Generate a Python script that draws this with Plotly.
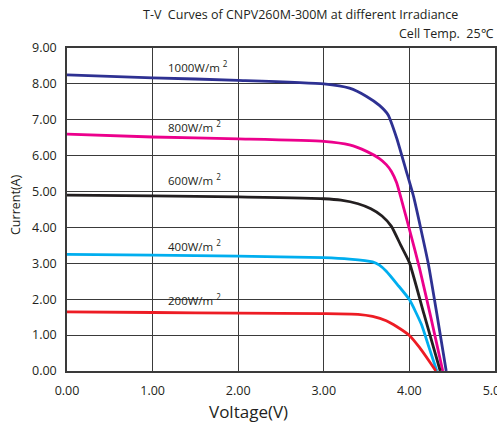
import plotly.graph_objects as go

# Data
V_1000 = [0, 1, 2, 3, 3.3, 3.5, 3.65, 3.75, 3.85, 3.96, 4.05, 4.13, 4.22, 4.32, 4.43]
I_1000 = [8.25, 8.17, 8.1, 8.0, 7.88, 7.65, 7.4, 7.14, 6.5, 5.6, 4.85, 4.0, 3.0, 1.6, 0]

V_800 = [0, 1, 2, 3, 3.3, 3.5, 3.65, 3.73, 3.79, 3.85, 3.91, 4.0, 4.12, 4.25, 4.39]
I_800 = [6.6, 6.52, 6.47, 6.4, 6.3, 6.12, 5.92, 5.75, 5.56, 5.25, 4.75, 3.95, 2.85, 1.5, 0]

V_600 = [0, 1, 2, 3, 3.2, 3.4, 3.55, 3.68, 3.79, 3.9, 4.0, 4.17, 4.36]
I_600 = [4.9, 4.88, 4.85, 4.8, 4.76, 4.66, 4.52, 4.32, 4.03, 3.5, 3.02, 1.59, 0]

V_400 = [0, 1, 2, 3, 3.3, 3.57, 3.65, 3.73, 3.86, 4.0, 4.14, 4.23, 4.32]
I_400 = [3.25, 3.23, 3.2, 3.16, 3.12, 3.04, 2.95, 2.78, 2.41, 1.99, 1.3, 0.65, 0]

V_200 = [0, 1, 2, 3, 3.4, 3.57, 3.73, 3.85, 4.0, 4.12, 4.23, 4.31]
I_200 = [1.65, 1.63, 1.61, 1.6, 1.58, 1.52, 1.4, 1.24, 0.99, 0.65, 0.28, 0]

series_names = ["1000W/m²", "800W/m²", "600W/m²", "400W/m²", "200W/m²"]
series_V = [V_1000, V_800, V_600, V_400, V_200]
series_I = [I_1000, I_800, I_600, I_400, I_200]
series_colors = ["#2e3192", "#ec008c", "#231f20", "#00aeef", "#ed1c24"]

label_texts = ["1000W/m <sup>2</sup>", "800W/m <sup>2</sup>", "600W/m <sup>2</sup>",
               "400W/m <sup>2</sup>", "200W/m <sup>2</sup>"]
label_x = [1.16, 1.16, 1.16, 1.16, 1.16]
label_y = [8.48, 6.82, 5.33, 3.51, 2.0]

x_ticks = [0, 1, 2, 3, 4, 5]
y_ticks = [0, 1, 2, 3, 4, 5, 6, 7, 8, 9]

FONT = "Open Sans"
GRID = "#3a3a3a"
TXT = "#231f20"

# plot area in pixels
L, R, T, B = 67, 495, 48, 371
W, H = 497, 425


def px(x):
    return (x - L) / (R - L)


def py(y):
    return (B - y) / (B - T)


fig = go.Figure()
for name, v, i, c in zip(series_names, series_V, series_I, series_colors):
    fig.add_trace(go.Scatter(x=v, y=i, mode="lines", name=name,
                             line=dict(color=c, width=2.8, shape="spline", smoothing=0.5)))

for t, x, y in zip(label_texts, label_x, label_y):
    fig.add_annotation(x=x, y=y, xref="x", yref="y", text=t, showarrow=False,
                       xanchor="left", yanchor="middle",
                       font=dict(family=FONT, size=11.5, color=TXT))

fig.add_annotation(x=px(300), y=py(15), xref="paper", yref="paper",
                   text="T-V  Curves of CNPV260M-300M at different Irradiance",
                   showarrow=False, xanchor="center", yanchor="middle",
                   font=dict(family=FONT, size=12.5, color=TXT))
fig.add_annotation(x=px(496), y=py(34), xref="paper", yref="paper",
                   text="Cell Temp.  25℃", showarrow=False,
                   xanchor="right", yanchor="middle",
                   font=dict(family=FONT, size=12.5, color=TXT))
fig.add_annotation(x=px(248), y=py(412), xref="paper", yref="paper",
                   text="Voltage(V)", showarrow=False,
                   xanchor="center", yanchor="middle",
                   font=dict(family=FONT, size=17, color=TXT))
fig.add_annotation(x=px(16), y=py(205), xref="paper", yref="paper",
                   text="Current(A)", showarrow=False, textangle=-90,
                   xanchor="center", yanchor="middle",
                   font=dict(family=FONT, size=12.5, color=TXT))

fig.update_layout(
    width=W, height=H,
    margin=dict(l=L, r=W - R, t=T, b=H - B, autoexpand=False),
    paper_bgcolor="white", plot_bgcolor="white",
    showlegend=False,
    font=dict(family=FONT, size=12, color=TXT),
)
fig.update_xaxes(
    range=[0, 5], tickvals=x_ticks, tickformat=".2f",
    showgrid=True, gridcolor=GRID, gridwidth=1.3,
    showline=True, linecolor=GRID, linewidth=1.5, mirror=True,
    ticks="outside", ticklen=7, tickcolor="rgba(0,0,0,0)",
    zeroline=False, automargin=False, ticklabeloverflow="allow",
    tickfont=dict(family=FONT, size=12.5, color=TXT),
)
fig.update_yaxes(
    range=[0, 9], tickvals=y_ticks, tickformat=".2f",
    showgrid=True, gridcolor=GRID, gridwidth=1.3,
    showline=True, linecolor=GRID, linewidth=1.5, mirror=True,
    ticks="outside", ticklen=6, tickcolor="rgba(0,0,0,0)",
    zeroline=False, automargin=False, ticklabeloverflow="allow",
    tickfont=dict(family=FONT, size=12.5, color=TXT),
)

fig.write_html("out.html", config={"displayModeBar": False},
               post_script="document.body.style.margin='0';document.body.style.overflow='hidden';")
